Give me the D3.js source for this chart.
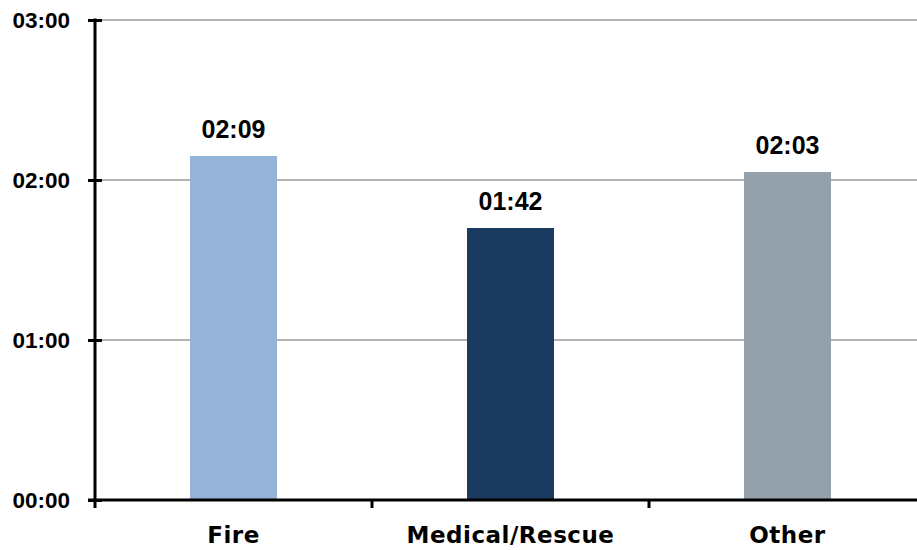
<!DOCTYPE html>
<html>
<head>
<meta charset="utf-8">
<script src="https://cdn.jsdelivr.net/npm/d3@7"></script>
<style>
  html, body { margin: 0; padding: 0; background: #fff; }
  svg { display: block; }
</style>
</head>
<body>
<svg id="chart" width="917" height="550"></svg>
<script>
// Average times per call type, in seconds
const categories = ["Fire", "Medical/Rescue", "Other"];
const seconds = [129, 102, 123];
const barColors = ["#95b3d7", "#1b3a5f", "#94a1aa"];
const tickValues = [0, 60, 120, 180];
const tickLabels = ["00:00", "01:00", "02:00", "03:00"];

const fmt = s => {
  const m = Math.floor(s / 60), r = s % 60;
  return String(m).padStart(2, "0") + ":" + String(r).padStart(2, "0");
};

const svg = d3.select("#chart");
const plotLeft = 95, plotRight = 926, plotTop = 20, plotBottom = 500;

const x = d3.scaleBand().domain(categories).range([plotLeft, plotRight])
  .paddingInner(0.686).paddingOuter(0.343);
const y = d3.scaleLinear().domain([0, 180]).range([plotBottom, plotTop]);

// Horizontal gridlines
svg.append("g").selectAll("line").data(tickValues.filter(v => v > 0)).join("line")
  .attr("x1", plotLeft).attr("x2", plotRight)
  .attr("y1", d => y(d)).attr("y2", d => y(d))
  .attr("stroke", "#b3b3b3").attr("stroke-width", 2);

// Bars
svg.append("g").selectAll("rect").data(categories).join("rect")
  .attr("x", d => x(d)).attr("width", x.bandwidth())
  .attr("y", (d, i) => y(seconds[i]))
  .attr("height", (d, i) => y(0) - y(seconds[i]))
  .attr("fill", (d, i) => barColors[i]);

// Value labels
svg.append("g").selectAll("text").data(categories).join("text")
  .attr("x", d => x(d) + x.bandwidth() / 2)
  .attr("y", (d, i) => y(seconds[i]) - 18)
  .attr("text-anchor", "middle")
  .attr("font-family", "Liberation Sans, Arial, sans-serif")
  .attr("font-weight", "bold").attr("font-size", 25).attr("fill", "#000")
  .text((d, i) => fmt(seconds[i]));

// Y axis
const yAxis = d3.axisLeft(y).tickValues(tickValues)
  .tickFormat((d, i) => tickLabels[i]).tickSizeInner(7).tickSizeOuter(0).tickPadding(18);
const yg = svg.append("g").attr("transform", `translate(${plotLeft},0)`).call(yAxis);
yg.select(".domain").attr("stroke", "#000").attr("stroke-width", 3)
  .attr("d", `M0,${plotTop - 1.5}V${plotBottom + 8}`);
yg.selectAll(".tick line").attr("stroke", "#000").attr("stroke-width", 3)
  .attr("x1", -7).attr("x2", 7);
yg.selectAll(".tick text")
  .attr("font-family", "Liberation Sans, Arial, sans-serif")
  .attr("font-weight", "bold").attr("font-size", 22.5).attr("fill", "#000");

// X axis
const bounds = categories.slice(1).map(c => x(c) - x.step() * x.paddingInner() / 2);
const xg = svg.append("g");
xg.append("line").attr("x1", plotLeft - 7).attr("x2", plotRight)
  .attr("y1", plotBottom).attr("y2", plotBottom)
  .attr("stroke", "#000").attr("stroke-width", 3);
xg.selectAll("line.tk").data(bounds).join("line").attr("class", "tk")
  .attr("x1", d => d).attr("x2", d => d)
  .attr("y1", plotBottom).attr("y2", plotBottom + 8)
  .attr("stroke", "#000").attr("stroke-width", 3);
xg.selectAll("text").data(categories).join("text")
  .attr("x", d => x(d) + x.bandwidth() / 2)
  .attr("y", 543)
  .attr("text-anchor", "middle")
  .attr("font-family", "DejaVu Sans, sans-serif")
  .attr("font-weight", "bold").attr("font-size", 23)
  .attr("letter-spacing", 0.5).attr("fill", "#000")
  .text(d => d);
</script>
</body>
</html>
